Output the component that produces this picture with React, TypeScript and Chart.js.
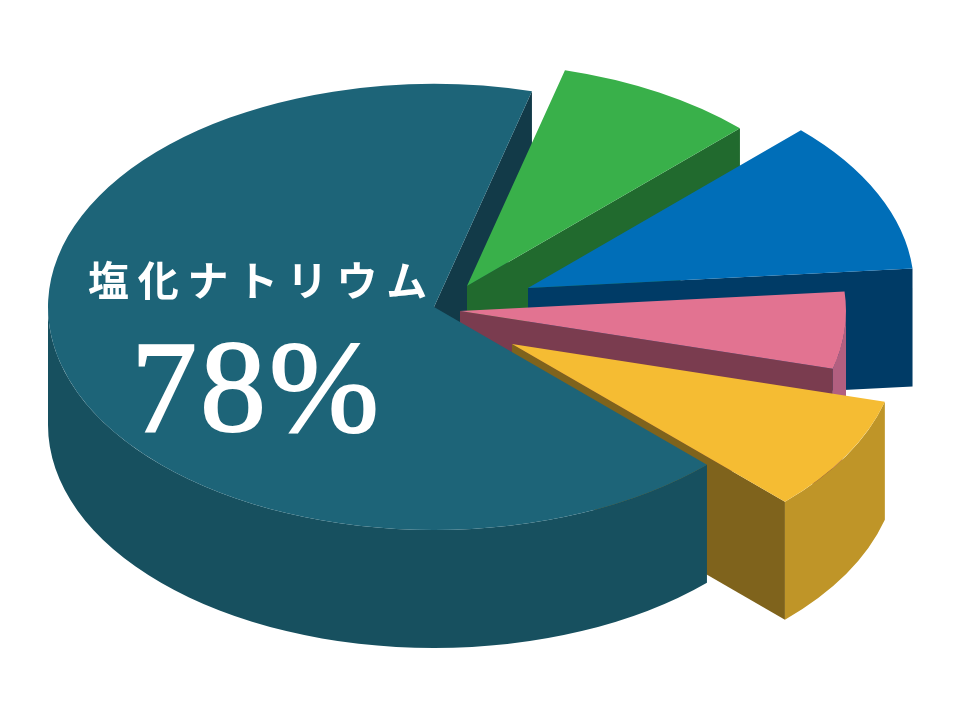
import { useEffect, useRef } from "react";
import Chart from "chart.js/auto";

// Sweep of each slice as drawn (degrees), clockwise from the big slice
const sliceNames = ["塩化ナトリウム", "", "", "", ""];
const sliceSweeps = [239.7, 30.3, 40, 20, 30];
const mainLabel = "塩化ナトリウム";
const mainPercent = "78%";

const topColors = ["#1d6478", "#39b04a", "#006eb8", "#e27391", "#f5bc33"];
const rimColors = ["#17505f", "#216a2e", "#003b66", "#b25f80", "#bf9528"];
const cutColors = ["#123a48", "#216a2e", "#003b66", "#7a3c4f", "#7f631c"];

// How far each slice is pulled out of the pie, on screen
const pullX = [0, 33, 94, 26, 78];
const pullY = [0, -21, -19, 4, 37];

const SQUASH = 0.578;
const DEPTH = 118;

const pie3d = {
  id: "pie3d",
  beforeDatasetsDraw(chart: any) {
    const { ctx } = chart;
    const arcs = chart.getDatasetMeta(0).data;
    const depth = DEPTH / SQUASH;

    const inSlice = (i: number, draw: () => void) => {
      const arc = arcs[i];
      ctx.save();
      ctx.translate(pullX[i], pullY[i]);
      ctx.translate(arc.x, arc.y);
      ctx.scale(1, SQUASH);
      ctx.translate(-arc.x, -arc.y);
      draw();
      ctx.restore();
    };

    const drawCut = (i: number) => {
      const arc = arcs[i];
      inSlice(i, () => {
        const ex = arc.x + Math.cos(arc.endAngle) * arc.outerRadius;
        const ey = arc.y + Math.sin(arc.endAngle) * arc.outerRadius;
        ctx.fillStyle = cutColors[i];
        ctx.beginPath();
        ctx.moveTo(arc.x, arc.y);
        ctx.lineTo(ex, ey);
        ctx.lineTo(ex, ey + depth);
        ctx.lineTo(arc.x, arc.y + depth);
        ctx.closePath();
        ctx.fill();
      });
    };

    // only the front half of the rim can be seen
    const drawRim = (i: number) => {
      const arc = arcs[i];
      for (const turn of [0, Math.PI * 2]) {
        const from = Math.max(arc.startAngle, turn);
        const to = Math.min(arc.endAngle, turn + Math.PI);
        if (to <= from) continue;
        inSlice(i, () => {
          ctx.fillStyle = rimColors[i];
          ctx.beginPath();
          ctx.arc(arc.x, arc.y, arc.outerRadius, from, to);
          ctx.arc(arc.x, arc.y + depth, arc.outerRadius, to, from, true);
          ctx.closePath();
          ctx.fill();
        });
      }
    };

    // big slice's back cut goes first, its top and rim go last
    drawCut(0);
    for (const i of [1, 2, 3, 4, 0]) {
      if (i !== 0) drawCut(i);
      drawRim(i);
      inSlice(i, () => arcs[i].draw(ctx));
    }

    ctx.save();
    ctx.fillStyle = "#ffffff";
    ctx.strokeStyle = "#ffffff";
    ctx.textBaseline = "alphabetic";
    ctx.textAlign = "left";
    ctx.font = '700 41px "Noto Sans CJK JP"';
    ctx.letterSpacing = "8.7px";
    ctx.fillText(mainLabel, 88, 296);
    ctx.font = '132px "Liberation Serif"';
    ctx.letterSpacing = "3px";
    ctx.lineWidth = 2;
    ctx.fillText(mainPercent, 131, 431);
    ctx.strokeText(mainPercent, 131, 431);
    ctx.restore();

    return false;
  },
};

export default function App() {
  const canvasRef = useRef<HTMLCanvasElement>(null);

  useEffect(() => {
    document.body.style.margin = "0";
    if (!canvasRef.current) return;
    const chart = new Chart(canvasRef.current, {
      type: "pie",
      data: {
        labels: sliceNames,
        datasets: [
          {
            data: sliceSweeps,
            backgroundColor: topColors,
            borderWidth: 0,
            radius: 386,
          } as any,
        ],
      },
      options: {
        responsive: false,
        animation: false,
        rotation: 135,
        layout: { padding: { right: 92, bottom: 106 } },
        plugins: {
          legend: { display: false },
          tooltip: { enabled: false },
        },
      },
      plugins: [pie3d],
    });
    return () => chart.destroy();
  }, []);

  return (
    <div style={{ width: 960, height: 720, background: "#ffffff" }}>
      <canvas ref={canvasRef} width={960} height={720} style={{ display: "block" }} />
    </div>
  );
}
